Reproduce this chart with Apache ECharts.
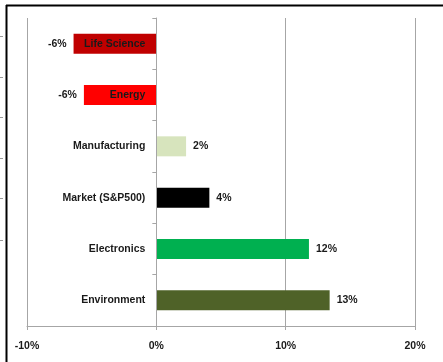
<!DOCTYPE html>
<html><head><meta charset="utf-8">
<style>html,body{margin:0;padding:0;background:#fff}#c{width:443px;height:362px}</style>
<script src="https://cdn.jsdelivr.net/npm/echarts@6/dist/echarts.min.js"></script>
</head><body><div id="c"></div>
<script>
const categories = ['Life Science', 'Energy', 'Manufacturing', 'Market (S&P500)', 'Electronics', 'Environment'];
const values = [-6.4, -5.6, 2.3, 4.1, 11.8, 13.4];
const barColors = ['#C00000', '#FF0000', '#D7E4BD', '#000000', '#00B050', '#4F6228'];
const xTicks = [-10, 0, 10, 20];

const chart = echarts.init(document.getElementById('c'));
const font = 'Liberation Sans, Arial, sans-serif';
const gridLeft = 27, gridRight = 28;
const plotW = 443 - gridLeft - gridRight;
const zeroOffset = plotW * (0 - xTicks[0]) / (xTicks[xTicks.length-1] - xTicks[0]);
const sideTicks = [36, 77, 117, 158, 198, 240];
const graphics = [
  {type:'line', shape:{x1:6.5,y1:5,x2:6.5,y2:362}, style:{stroke:'#000', lineWidth:2}, z:100},
  {type:'line', shape:{x1:6,y1:5.5,x2:443,y2:5.5}, style:{stroke:'#000', lineWidth:2}, z:100}
];
sideTicks.forEach(y => graphics.push({type:'line', shape:{x1:0,y1:y+0.5,x2:3,y2:y+0.5}, style:{stroke:'#999', lineWidth:1}, z:100}));

chart.setOption({
  animation: false,
  backgroundColor: '#fff',
  graphic: graphics,
  grid: {left: gridLeft, right: gridRight, top: 18, bottom: 36, containLabel: false, outerBoundsMode: 'none'},
  xAxis: {
    type: 'value', min: xTicks[0], max: xTicks[xTicks.length-1], interval: 10,
    axisLine: {show: true, lineStyle: {color: '#a6a6a6', width: 1}},
    axisTick: {show: true, length: 4, lineStyle: {color: '#a6a6a6'}},
    splitLine: {show: true, lineStyle: {color: '#a6a6a6', width: 1}},
    axisLabel: {formatter: '{value}%', fontFamily: font, fontWeight: 'bold', fontSize: 10.5, color: '#1a1a1a', margin: 15}
  },
  yAxis: {
    type: 'category', data: categories, inverse: true, z: 10,
    offset: -zeroOffset,
    axisLine: {show: true, onZero: false, lineStyle: {color: '#a6a6a6', width: 1}},
    axisTick: {show: true, length: 4, lineStyle: {color: '#a6a6a6'}},
    axisLabel: {fontFamily: font, fontWeight: 'bold', fontSize: 10.5, color: '#1a1a1a', margin: 11, padding: [3, 0, 0, 0]}
  },
  series: [{
    type: 'bar',
    barWidth: 20,
    data: values.map((v, i) => ({value: v, itemStyle: {color: barColors[i]}, label: {position: v < 0 ? 'left' : 'right'}})),
    label: {show: true, distance: 7, fontFamily: font, fontWeight: 'bold', fontSize: 10.5, color: '#1a1a1a',
      padding: [2, 0, 0, 0], formatter: p => Math.round(p.value) + '%'}
  }]
});
</script></body></html>
